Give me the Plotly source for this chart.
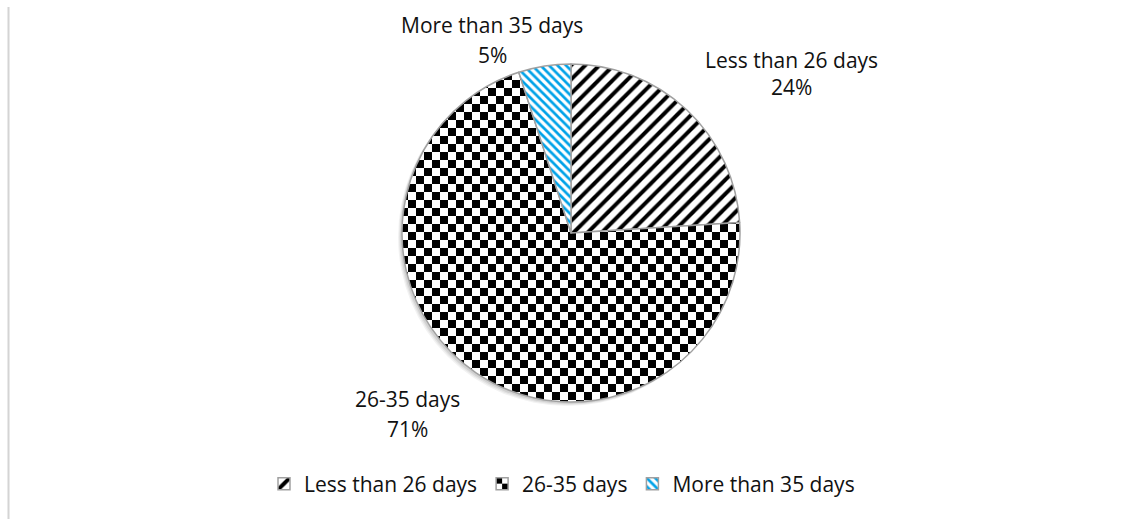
import plotly.graph_objects as go

# Share of cases by duration
labels = ["Less than 26 days", "26-35 days", "More than 35 days"]
values = [24, 71, 5]

# Fill patterns per slice
pattern_shapes = ["/", "+", "\\"]
pattern_fg = ["#000000", "#000000", "#00a2e8"]
pattern_size = [10, 16, 6]
pattern_solidity = [0.4, 0.5, 0.45]
CHECKER_SIZE = 16  # tile size of the checkerboard slice

W, H = 1131, 519
cx, cy, r = 571, 233, 169  # pie centre / radius in pixels

fig = go.Figure()

# Soft drop shadow behind the pie (lower-left)
for off, alpha in ((4, 0.05), (3, 0.06), (2, 0.08)):
    fig.add_shape(type="circle", xref="paper", yref="paper", layer="below",
                  x0=(cx - r - off) / W, x1=(cx + r - off) / W,
                  y0=(H - cy - r - off) / H, y1=(H - cy + r - off) / H,
                  fillcolor=f"rgba(0,0,0,{alpha})", line=dict(width=0))

fig.add_trace(go.Pie(
    labels=labels,
    values=values,
    sort=False,
    direction="clockwise",
    rotation=0,
    textinfo="none",
    hoverinfo="label+percent",
    domain=dict(x=[(cx - r) / W, (cx + r) / W],
                y=[(H - cy - r) / H, (H - cy + r) / H]),
    marker=dict(
        colors=["#ffffff"] * 3,
        line=dict(color="#a0a0a0", width=1.5),
        pattern=dict(shape=pattern_shapes, fgcolor=pattern_fg,
                     bgcolor="#ffffff", size=pattern_size,
                     solidity=pattern_solidity, fillmode="replace"),
    ),
))

# Outside data labels: category name and percentage
FONT = "Open Sans, Lato, sans-serif"
label_font = dict(family=FONT, size=21, color="#111111")
label_pos = {  # (x centre, y of name line, y of percent line) in px
    "Less than 26 days": (791, 60, 87),
    "26-35 days": (407, 399, 429),
    "More than 35 days": (492, 25, 55),
}
total = sum(values)
for lab, val in zip(labels, values):
    x, y1, y2 = label_pos[lab]
    pct = round(100 * val / total)
    for txt, yy in ((lab, y1), (f"{pct}%", y2)):
        fig.add_annotation(text=txt, x=x / W, y=1 - yy / H, xref="paper", yref="paper",
                           xanchor="center", yanchor="middle", showarrow=False,
                           font=label_font)

# Left border line of the chart area
fig.add_shape(type="line", xref="paper", yref="paper",
              x0=8.5 / W, x1=8.5 / W, y0=0, y1=1 - 7 / H,
              line=dict(color="#d4d4d4", width=2))

fig.update_layout(
    width=W, height=H,
    margin=dict(l=0, r=0, t=0, b=0, autoexpand=False),
    paper_bgcolor="#ffffff",
    plot_bgcolor="#ffffff",
    showlegend=True,
    legend=dict(orientation="h", x=264 / W, xanchor="left",
                y=1 - 484 / H, yanchor="middle",
                font=dict(family=FONT, size=21, color="#111111"),
                itemwidth=30, tracegroupgap=0),
)

# Replace the tile of the middle slice with a checkerboard tile
checker_js = """
var gd = document.getElementById('{plot_id}');
function checker(){
  gd.querySelectorAll('pattern').forEach(function(p){
    var w = parseFloat(p.getAttribute('width'));
    if(Math.abs(w - %d) > 0.01) return;
    var h = w / 2;
    var ns = 'http://www.w3.org/2000/svg';
    Array.prototype.slice.call(p.childNodes).forEach(function(c){ if(c.tagName !== 'rect') p.removeChild(c); });
    var path = document.createElementNS(ns, 'path');
    path.setAttribute('d', 'M0,0H' + h + 'V' + h + 'H0Z M' + h + ',' + h + 'H' + w + 'V' + w + 'H' + h + 'Z');
    path.setAttribute('fill', '#000000');
    path.setAttribute('stroke', 'none');
    p.appendChild(path);
  });
}
checker();
gd.on('plotly_afterplot', checker);
""" % CHECKER_SIZE

fig.write_html("out.html", post_script=checker_js)
